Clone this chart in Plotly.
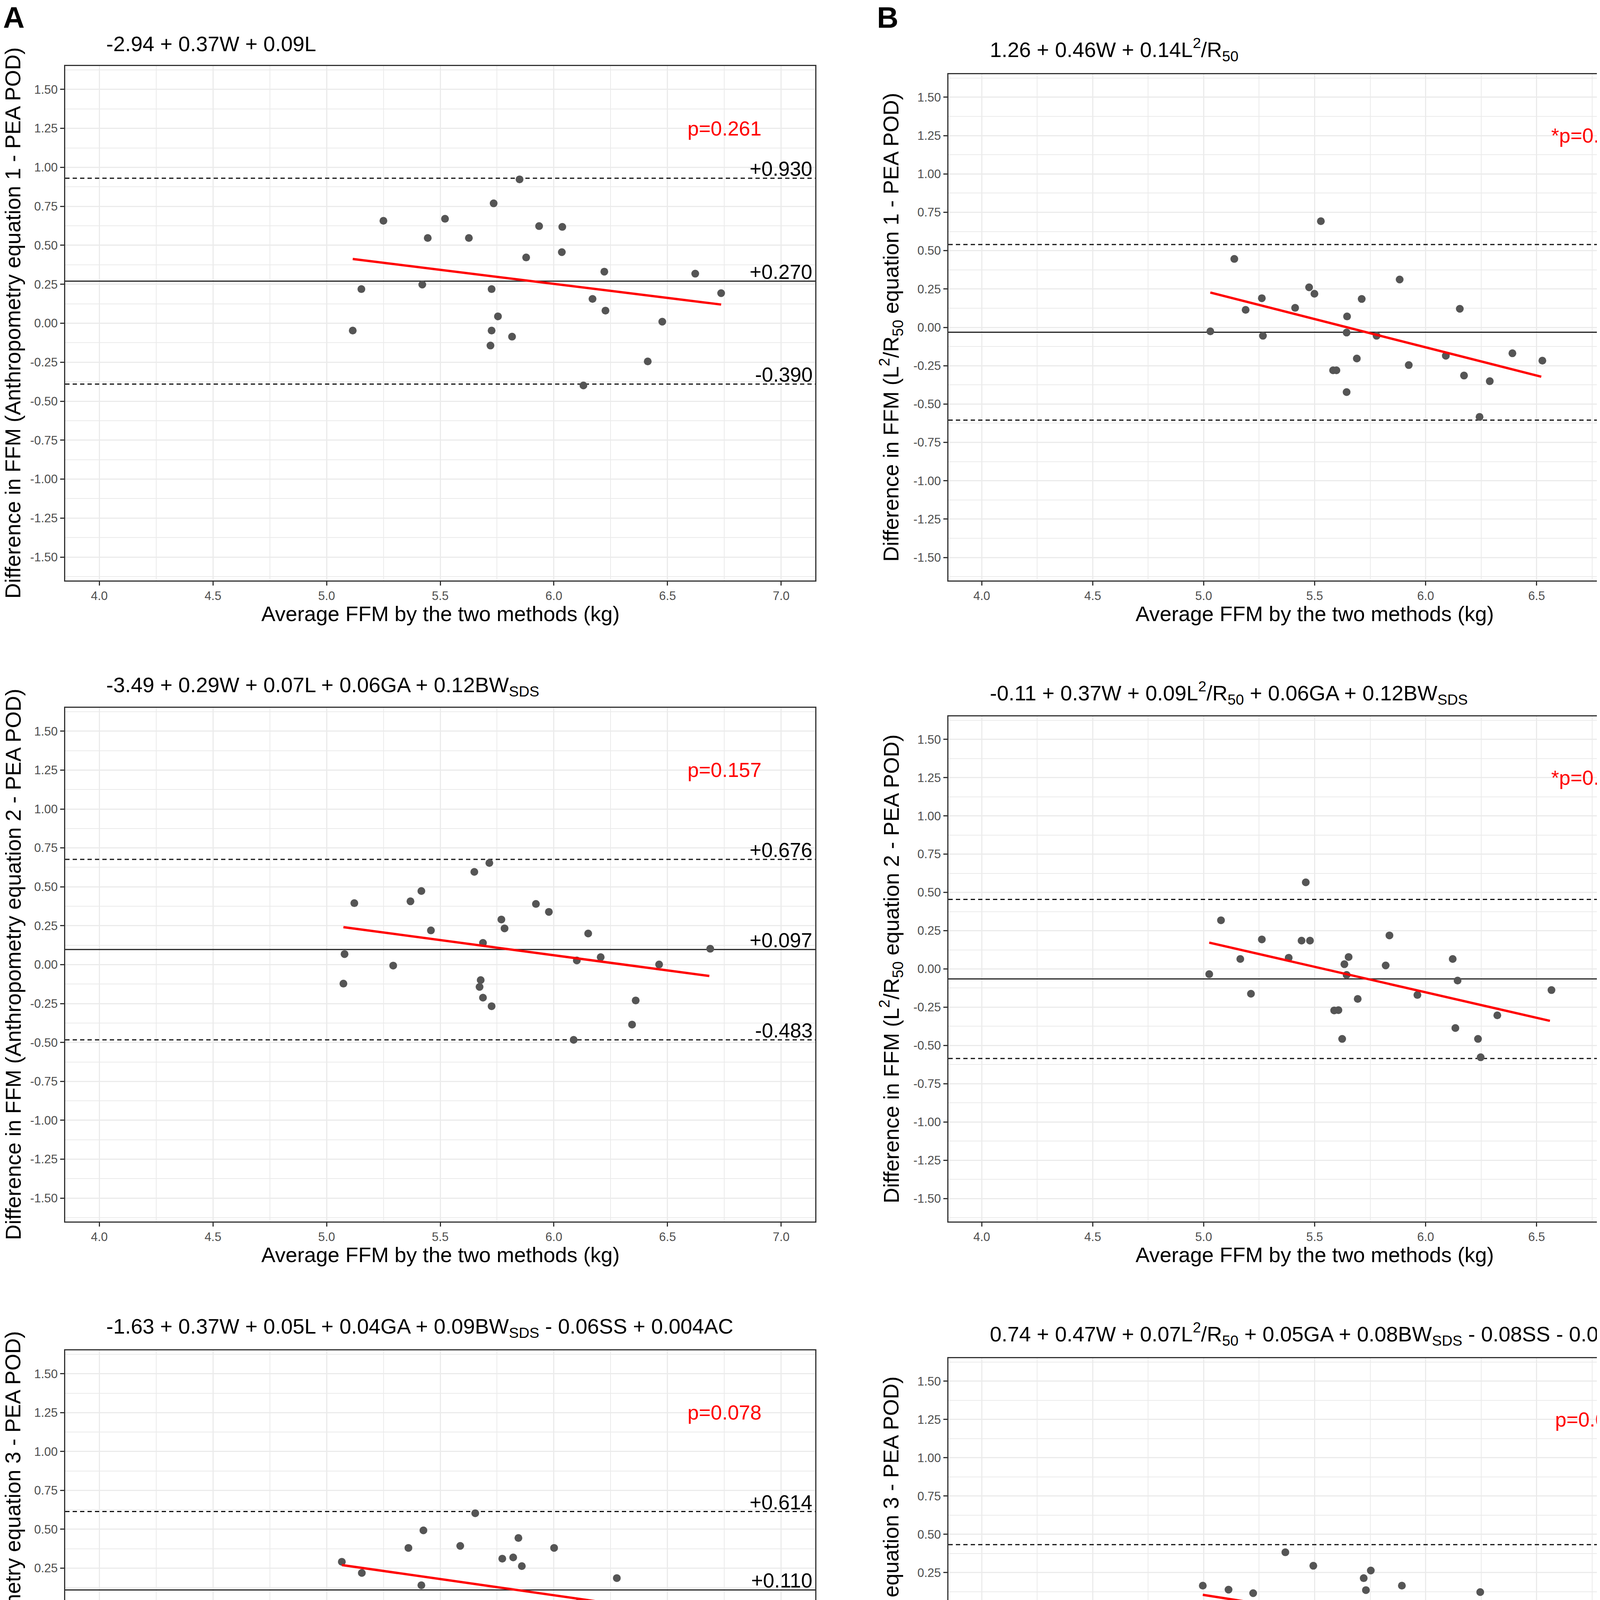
#!/usr/bin/env python3

"""
Bland-Altman plots: anthropometry equations (A) and BIA equations (B) vs PEA POD.
"""

import plotly.graph_objects as go

# ---------------------------------------------------------------- data

# A1 - anthropometry equation 1
a1_avg = [5.115, 5.153, 5.250, 5.421, 5.445, 5.521, 5.626, 5.735, 5.726, 5.754, 5.726, 5.721, 5.816,
          5.849, 5.878, 5.935, 6.037, 6.035, 6.170, 6.222, 6.227, 6.130, 6.413, 6.477, 6.622, 6.736]
a1_diff = [-0.047, 0.219, 0.657, 0.248, 0.547, 0.670, 0.547, 0.769, 0.219, 0.044, -0.047, -0.143, -0.086,
           0.923, 0.422, 0.623, 0.618, 0.456, 0.156, 0.331, 0.081, -0.399, -0.245, 0.010, 0.318, 0.193]
a1_trend_x = [5.115, 6.736]
a1_trend_y = [0.412, 0.120]
a1_limits = [0.930, 0.270, -0.390]  # upper LoA, bias, lower LoA

# B1 - L2/R50 equation 1
b1_avg = [5.030, 5.138, 5.189, 5.262, 5.267, 5.412, 5.475, 5.499, 5.528, 5.583, 5.598, 5.646, 5.644,
          5.644, 5.690, 5.712, 5.779, 5.883, 5.924, 6.091, 6.154, 6.173, 6.243, 6.289, 6.391, 6.526]
b1_diff = [-0.026, 0.446, 0.114, 0.190, -0.055, 0.127, 0.261, 0.219, 0.692, -0.280, -0.280, 0.071, -0.034,
           -0.422, -0.203, 0.185, -0.055, 0.312, -0.246, -0.185, 0.121, -0.314, -0.584, -0.351, -0.169, -0.217]
b1_trend_x = [5.030, 6.521]
b1_trend_y = [0.227, -0.322]
b1_limits = [0.540, -0.032, -0.605]

# A2 - anthropometry equation 2
a2_avg = [5.074, 5.079, 5.122, 5.293, 5.369, 5.417, 5.459, 5.650, 5.716, 5.688, 5.678, 5.673, 5.688,
          5.726, 5.769, 5.783, 5.921, 5.978, 6.087, 6.101, 6.151, 6.206, 6.344, 6.360, 6.463, 6.688]
a2_diff = [-0.122, 0.068, 0.395, -0.006, 0.407, 0.473, 0.220, 0.596, 0.653, 0.140, -0.099, -0.143, -0.212,
           -0.267, 0.290, 0.233, 0.390, 0.339, -0.483, 0.027, 0.200, 0.048, -0.385, -0.230, 0.001, 0.102]
a2_trend_x = [5.074, 6.684]
a2_trend_y = [0.241, -0.073]
a2_limits = [0.676, 0.097, -0.483]

# B2 - L2/R50 equation 2
b2_avg = [5.025, 5.078, 5.165, 5.213, 5.262, 5.383, 5.441, 5.479, 5.460, 5.588, 5.607, 5.624, 5.634,
          5.653, 5.644, 5.694, 5.820, 5.837, 5.963, 6.122, 6.144, 6.134, 6.236, 6.248, 6.323, 6.567]
b2_diff = [-0.034, 0.318, 0.065, -0.162, 0.193, 0.073, 0.185, 0.185, 0.566, -0.271, -0.269, -0.457, 0.031,
           0.078, -0.039, -0.196, 0.023, 0.219, -0.170, 0.065, -0.076, -0.386, -0.457, -0.577, -0.303, -0.138]
b2_trend_x = [5.025, 6.560]
b2_trend_y = [0.172, -0.339]
b2_limits = [0.454, -0.065, -0.585]

# A3 - anthropometry equation 3
a3_avg = [5.067, 5.155, 5.143, 5.231, 5.360, 5.426, 5.417, 5.588, 5.654, 5.773, 5.821, 5.844, 5.859,
          5.778, 5.669, 5.635, 5.768, 6.001, 6.001, 6.111, 6.187, 6.277, 6.410, 6.413, 6.441, 6.631]
a3_diff = [0.291, 0.219, 0.019, -0.134, 0.380, 0.493, 0.140, 0.393, 0.603, 0.311, 0.319, 0.444, 0.263,
           -0.029, -0.150, -0.193, -0.183, 0.380, -0.106, 0.029, -0.288, 0.186, -0.122, -0.247, -0.052, -0.012]
a3_trend_x = [5.067, 6.627]
a3_trend_y = [0.270, -0.055]
a3_limits = [0.614, 0.110, -0.394]

# B3 - L2/R50 equation 3
b3_avg = [4.996, 5.112, 5.141, 5.112, 5.223, 5.329, 5.368, 5.378, 5.494, 5.523, 5.624, 5.683, 5.721,
          5.753, 5.731, 5.748, 5.791, 5.818, 5.893, 6.048, 6.207, 6.246, 6.255, 6.330, 6.354, 6.514]
b3_diff = [0.165, 0.139, 0.022, -0.365, 0.116, -0.027, 0.383, -0.017, 0.295, -0.406, -0.238, -0.344, 0.214,
           0.264, 0.136, 0.030, -0.004, -0.464, 0.165, -0.090, -0.245, 0.123, -0.414, -0.406, -0.238, -0.253]
b3_trend_x = [4.996, 6.509]
b3_trend_y = [0.105, -0.238]
b3_limits = [0.433, -0.063, -0.560]

titles = [
    "-2.94 + 0.37W + 0.09L",
    "1.26 + 0.46W + 0.14L<sup>2</sup>/R<sub>50</sub>",
    "-3.49 + 0.29W + 0.07L + 0.06GA + 0.12BW<sub>SDS</sub>",
    "-0.11 + 0.37W + 0.09L<sup>2</sup>/R<sub>50</sub> + 0.06GA + 0.12BW<sub>SDS</sub>",
    "-1.63 + 0.37W + 0.05L + 0.04GA + 0.09BW<sub>SDS</sub> - 0.06SS + 0.004AC",
    "0.74 + 0.47W + 0.07L<sup>2</sup>/R<sub>50</sub> + 0.05GA + 0.08BW<sub>SDS</sub> - 0.08SS - 0.01AC",
]
y_titles = [
    "Difference in FFM (Anthropometry equation 1 - PEA POD)",
    "Difference in FFM (L<sup>2</sup>/R<sub>50</sub> equation 1 - PEA POD)",
    "Difference in FFM (Anthropometry equation 2 - PEA POD)",
    "Difference in FFM (L<sup>2</sup>/R<sub>50</sub> equation 2 - PEA POD)",
    "Difference in FFM (Anthropometry equation 3 - PEA POD)",
    "Difference in FFM (L<sup>2</sup>/R<sub>50</sub> equation 3 - PEA POD)",
]
x_title = "Average FFM by the two methods (kg)"
p_labels = ["p=0.261", "*p=0.009", "p=0.157", "*p=0.006", "p=0.078", "p=0.053"]
p_pos = [6.75, 1.25]

x_range = [3.85, 7.15]
y_range = [-1.65, 1.65]
x_tick_vals = [4.0, 4.5, 5.0, 5.5, 6.0, 6.5, 7.0]
x_tick_text = ["4.0", "4.5", "5.0", "5.5", "6.0", "6.5", "7.0"]
y_tick_vals = [1.5, 1.25, 1.0, 0.75, 0.5, 0.25, 0.0, -0.25, -0.5, -0.75, -1.0, -1.25, -1.5]
y_tick_text = ["1.50", "1.25", "1.00", "0.75", "0.50", "0.25", "0.00",
               "-0.25", "-0.50", "-0.75", "-1.00", "-1.25", "-1.50"]

panels = [
    (a1_avg, a1_diff, a1_trend_x, a1_trend_y, a1_limits),
    (b1_avg, b1_diff, b1_trend_x, b1_trend_y, b1_limits),
    (a2_avg, a2_diff, a2_trend_x, a2_trend_y, a2_limits),
    (b2_avg, b2_diff, b2_trend_x, b2_trend_y, b2_limits),
    (a3_avg, a3_diff, a3_trend_x, a3_trend_y, a3_limits),
    (b3_avg, b3_diff, b3_trend_x, b3_trend_y, b3_limits),
]

# ---------------------------------------------------------------- layout

# page is 4317x4890; the body has an 8px margin, so the figure is a bit smaller
OFF = 8
W, H = 4317 - 2 * OFF, 4890 - 2 * OFF
FONT = "Arial, Liberation Sans, sans-serif"
GRID = "#EBEBEB"
DARK = "#333333"

# panel boxes in page pixels: left, top, right, bottom
col_x = [(167, 2087), (2428, 4303)]
row_tops = [(169, 190), (1812, 1834), (3457, 3477)]
row_bottoms = [1486, 3127, 4771]
title_y = [(112, 127), (1757, 1774), (3399, 3415)]
title_x = [270, 2532]
ytitle_x = [33, 2281]


def px_x(v):
    return (v - OFF) / W


def px_y(v):
    return 1 - (v - OFF) / H


fig = go.Figure()
annotations = []

for i, (avg, diff, tx, ty, limits) in enumerate(panels):
    n = i + 1
    row, col = divmod(i, 2)
    left, right = col_x[col]
    top = row_tops[row][col]
    bottom = row_bottoms[row]
    sfx = "" if n == 1 else str(n)
    xref, yref = f"x{sfx}", f"y{sfx}"

    # bias and limits of agreement, across the whole panel
    for k, val in enumerate(limits):
        fig.add_trace(go.Scatter(
            x=x_range, y=[val, val], mode="lines", xaxis=xref, yaxis=yref,
            line=dict(color="#222222" if k == 1 else "#111111", width=3,
                      dash="solid" if k == 1 else "11px,8px"),
            showlegend=False, hoverinfo="skip",
        ))
        annotations.append(dict(
            xref=f"{xref} domain", yref=yref, x=1, y=val, xanchor="right", yanchor="bottom",
            xshift=-5, yshift=-7, text=f"{val:+.3f}", showarrow=False,
            font=dict(family=FONT, size=52, color="black"),
        ))

    fig.add_trace(go.Scatter(
        x=avg, y=diff, mode="markers", xaxis=xref, yaxis=yref,
        marker=dict(color="#555555", size=20, line=dict(width=0)),
        showlegend=False,
    ))
    fig.add_trace(go.Scatter(
        x=tx, y=ty, mode="lines", xaxis=xref, yaxis=yref,
        line=dict(color="#FF0000", width=6),
        showlegend=False,
    ))

    axis_common = dict(
        showline=True, mirror=True, linecolor=DARK, linewidth=3,
        ticks="outside", ticklen=10, tickwidth=3, tickcolor=DARK,
        tickfont=dict(family=FONT, size=31, color="#4D4D4D"),
        showgrid=True, gridcolor=GRID, gridwidth=2.5, zeroline=False,
        tickmode="array",
    )
    fig.layout[f"xaxis{sfx}"] = dict(
        axis_common, domain=[px_x(left), px_x(right)], anchor=yref,
        range=x_range, tickvals=x_tick_vals, ticktext=x_tick_text,
        minor=dict(tickmode="linear", tick0=4.0, dtick=0.25, showgrid=True,
                   gridcolor=GRID, gridwidth=2),
    )
    fig.layout[f"yaxis{sfx}"] = dict(
        axis_common, domain=[px_y(bottom), px_y(top)], anchor=xref,
        range=y_range, tickvals=y_tick_vals, ticktext=y_tick_text,
        minor=dict(tickmode="linear", tick0=0.0, dtick=0.125, showgrid=True,
                   gridcolor=GRID, gridwidth=2),
    )

    # p value
    annotations.append(dict(
        xref=xref, yref=yref, x=p_pos[0], y=p_pos[1], xanchor="center", yanchor="middle",
        text=p_labels[i], showarrow=False, font=dict(family=FONT, size=52, color="#FF0000"),
    ))

    # equation title
    annotations.append(dict(
        xref="paper", yref="paper", x=px_x(title_x[col]), y=px_y(title_y[row][col]),
        xanchor="left", yanchor="middle", text=titles[i], showarrow=False,
        font=dict(family=FONT, size=54, color="black"),
    ))

    # axis titles
    annotations.append(dict(
        xref="paper", yref="paper", x=px_x((left + right) / 2), y=px_y(bottom + 85),
        xanchor="center", yanchor="middle", text=x_title, showarrow=False,
        font=dict(family=FONT, size=54, color="black"),
    ))
    annotations.append(dict(
        xref="paper", yref="paper", x=px_x(ytitle_x[col]), y=px_y((top + bottom) / 2),
        xanchor="center", yanchor="middle", text=y_titles[i], textangle=-90, showarrow=False,
        font=dict(family=FONT, size=55, color="black"),
    ))

# panel letters
for letter, lx in (("A", 35), ("B", 2272)):
    annotations.append(dict(
        xref="paper", yref="paper", x=px_x(lx), y=px_y(45), xanchor="center", yanchor="middle",
        text=f"<b>{letter}</b>", showarrow=False,
        font=dict(family=FONT, size=76, color="black"),
    ))

fig.update_layout(
    width=W, height=H,
    margin=dict(l=0, r=0, t=0, b=0),
    paper_bgcolor="white", plot_bgcolor="white",
    showlegend=False,
    annotations=annotations,
)

fig.write_html("out.html")
